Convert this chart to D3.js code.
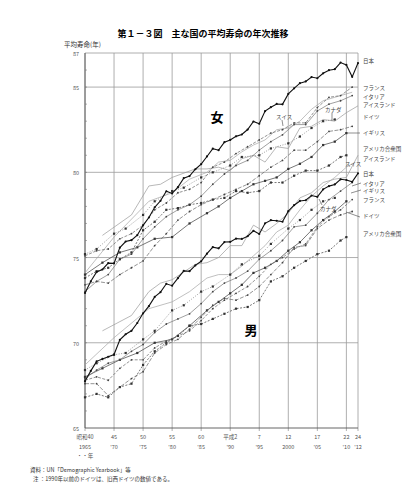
<!DOCTYPE html>
<html><head><meta charset="utf-8">
<script src="https://cdn.jsdelivr.net/npm/d3@7"></script>
<style>body{margin:0;background:#fff}svg{display:block}text{font-family:"Noto Sans CJK JP","Noto Sans",sans-serif}</style>
</head><body><svg id="c" width="403" height="500"></svg>
<script>
// ---------- data ----------
const tickYears = [1965,1970,1975,1980,1985,1990,1995,2000,2005,2010,2012];
const tickEra   = ["昭和40","45","50","55","60","平成2","7","12","17","22","24"];
const tickWest  = ["1965","'70","'75","'80","'85","'90","'95","2000","'05","'10","'12"];
const yTicks = [65,70,75,80,85,87];

const jpYears = [1965,1966,1967,1968,1969,1970,1971,1972,1973,1974,1975,1976,1977,1978,1979,1980,1981,1982,1983,1984,1985,1986,1987,1988,1989,1990,1991,1992,1993,1994,1995,1996,1997,1998,1999,2000,2001,2002,2003,2004,2005,2006,2007,2008,2009,2010,2011,2012];
const jpF = [72.92,73.61,74.15,74.30,74.67,74.66,75.58,75.94,76.02,76.31,76.89,77.35,77.95,78.33,78.89,78.76,79.13,79.66,79.78,80.18,80.48,80.93,81.39,81.30,81.77,81.90,82.11,82.22,82.51,82.98,82.85,83.59,83.82,84.01,83.99,84.60,84.93,85.23,85.33,85.59,85.52,85.81,85.99,86.05,86.44,86.30,85.60,86.41];
const jpM = [67.74,68.35,68.91,69.05,69.18,69.31,70.17,70.50,70.70,71.16,71.73,72.15,72.69,72.97,73.46,73.35,73.79,74.22,74.20,74.54,74.78,75.23,75.61,75.54,75.91,75.92,76.11,76.09,76.25,76.57,76.38,77.01,77.19,77.16,77.10,77.72,78.07,78.32,78.36,78.64,78.56,79.00,79.19,79.29,79.59,79.55,79.44,79.94];

const oddYears = [1965,1967,1969,1971,1973,1975,1977,1979,1981,1983,1985,1987,1989,1991,1993,1995,1997,1999,2001,2003,2005,2007,2009,2011];
const frF = [75.1,75.4,75.5,76.1,76.4,76.9,77.8,78.2,78.8,79.0,79.4,80.3,80.6,81.1,81.5,81.9,82.3,82.5,82.9,82.9,83.8,84.4,84.5,85.0];
const frM = [67.8,68.0,67.8,68.5,69.0,69.0,69.7,70.1,70.4,70.7,71.3,72.0,72.5,72.9,73.3,73.9,74.6,75.0,75.5,75.8,76.8,77.4,77.8,78.4];
const itF = [73.0,73.6,74.0,74.9,75.2,76.1,76.8,77.4,77.8,78.1,78.6,79.3,79.9,80.4,80.7,81.3,81.8,82.2,82.8,82.8,83.6,84.0,84.2,84.5];
const itM = [67.9,68.4,68.8,69.0,69.5,69.9,70.6,71.1,71.4,71.7,72.3,73.0,73.5,73.8,74.2,74.9,75.4,76.0,76.8,76.9,77.6,78.4,78.9,79.4];
const deF = [73.4,73.6,73.5,74.0,74.4,74.8,75.7,76.4,77.2,77.7,78.1,78.4,78.7,79.0,79.3,79.8,80.3,80.7,81.3,81.3,81.8,82.4,82.5,82.7];
const deM = [67.6,67.6,66.9,67.4,67.9,68.3,69.4,69.9,70.2,70.8,71.5,72.2,72.6,72.5,72.8,73.3,74.0,74.7,75.6,75.7,76.7,77.2,77.5,77.7];

const usYears = [1965,1967,1969,1971,1973,1975,1977,1979,1981,1983,1985,1987,1989,1991,1993,1995,1997,1999,2001,2003,2005,2007,2009,2010];
const usF = [73.8,74.2,74.4,74.9,75.3,76.6,77.1,77.8,77.9,78.1,78.2,78.4,78.5,78.9,78.8,78.9,79.4,79.4,79.8,80.1,80.1,80.4,80.9,81.0];
const usM = [66.8,67.0,66.8,67.4,67.6,68.7,69.5,70.0,70.4,71.0,71.1,71.4,71.7,72.0,72.1,72.5,73.6,73.9,74.4,74.8,75.2,75.4,76.0,76.2];

const isYears = [1968,1973,1976,1978,1980,1984,1986,1988,1990,1992,1994,1996,1998,2000,2002,2004,2006,2008,2010,2012];
const isF = [76.3,77.5,79.2,79.3,79.7,80.2,80.2,80.3,80.1,80.8,81.0,80.6,81.5,81.4,82.6,82.7,83.1,83.0,83.5,83.9];
const isM = [70.7,71.6,73.0,73.5,73.7,74.6,74.7,75.0,75.7,75.7,76.9,76.5,77.0,77.6,78.5,78.8,79.4,79.6,79.7,81.0];

const caYears = [1965,1967,1970,1972,1975,1977,1980,1982,1985,1987,1990,1992,1995,1997,2000,2002,2004,2006,2008];
const caF = [75.2,75.5,76.4,76.7,77.5,78.3,78.9,79.1,79.7,80.0,80.4,80.9,81.0,81.4,81.7,82.1,82.6,83.0,83.1];
const caM = [68.4,68.8,69.3,69.4,70.2,70.7,71.9,72.2,73.0,73.3,74.0,74.6,75.1,75.8,76.7,77.2,77.8,78.3,78.5];

const chYears = [1965,1970,1976,1980,1983,1986,1988,1990,1992,1994,1996,1998,2000,2002,2004,2006,2008,2010,2011];
const chF = [74.1,76.2,78.3,78.8,79.6,80.0,80.6,80.7,81.2,81.6,81.9,82.5,82.6,83.0,83.7,84.2,84.4,84.6,84.7];
const chM = [68.7,70.3,72.0,72.4,73.0,73.8,74.0,74.0,74.5,75.1,75.7,76.5,76.9,77.8,78.6,79.2,79.7,80.3,80.5];

const ukYears = [1965,1968,1971,1974,1977,1980,1983,1986,1988,1990,1992,1994,1996,1998,2000,2002,2004,2006,2008,2010];
const ukF = [74.0,74.7,75.3,75.6,76.1,76.2,77.0,77.6,78.0,78.5,78.9,79.3,79.5,79.7,80.2,80.5,80.9,81.6,81.8,82.3];
const ukM = [68.0,68.5,69.0,69.4,70.0,70.2,71.0,71.9,72.4,72.9,73.4,74.1,74.4,74.8,75.4,75.9,76.6,77.2,77.7,78.3];

// ---------- chart ----------
const svg = d3.select("#c");
const x = d3.scaleLinear().domain([1965,2012]).range([85,358]);
const y = d3.scaleLinear().domain([65,87]).range([428,53]);
const grid = "#9a9a9a";

svg.append("text").attr("x",203).attr("y",37).attr("text-anchor","middle")
  .attr("font-size",9).attr("font-weight","bold").text("第１－３図　主な国の平均寿命の年次推移");
svg.append("text").attr("x",64).attr("y",47).attr("font-size",6.5).attr("fill","#333").text("平均寿命(年)");

// grid
const g = svg.append("g");
g.selectAll("line.v").data(tickYears).join("line")
  .attr("x1",d=>x(d)).attr("x2",d=>x(d)).attr("y1",y(87)).attr("y2",y(65)+3)
  .attr("stroke",grid).attr("stroke-width",0.8);
g.selectAll("line.h").data([70,75,80,85,87]).join("line")
  .attr("x1",x(1965)).attr("x2",x(2012)).attr("y1",d=>y(d)).attr("y2",d=>y(d))
  .attr("stroke",grid).attr("stroke-width",0.8);
g.append("line").attr("x1",x(1965)).attr("x2",x(2012)).attr("y1",y(65)).attr("y2",y(65))
  .attr("stroke","#555").attr("stroke-width",0.9);
g.append("line").attr("x1",x(1965)).attr("x2",x(1965)).attr("y1",y(87)).attr("y2",y(65))
  .attr("stroke","#555").attr("stroke-width",0.9);
g.selectAll("line.m").data(d3.range(66,87)).join("line")
  .attr("x1",x(1965)).attr("x2",x(1965)+2).attr("y1",d=>y(d)).attr("y2",d=>y(d))
  .attr("stroke","#777").attr("stroke-width",0.6);

svg.selectAll("text.yt").data(yTicks).join("text")
  .attr("x",79).attr("y",d=>y(d)+3).attr("text-anchor","end").attr("font-size",5.5).attr("fill","#555").text(d=>d);
svg.selectAll("text.xe").data(tickYears).join("text")
  .attr("x",d=>x(d)).attr("y",439).attr("text-anchor","middle").attr("font-size",5.5).attr("fill","#555")
  .text((d,i)=>tickEra[i]);
svg.selectAll("text.xw").data(tickYears).join("text")
  .attr("x",d=>x(d)).attr("y",449).attr("text-anchor","middle").attr("font-size",5.5).attr("fill","#555")
  .text((d,i)=>tickWest[i]);
svg.append("text").attr("x",x(1965)).attr("y",458).attr("text-anchor","middle").attr("font-size",5.5).attr("fill","#555").text("・・年");

// series
const series = [
  {ys:isYears,f:isF,m:isM,color:"#9a9a9a",w:0.7,dash:null,mark:false},
  {ys:chYears,f:chF,m:chM,color:"#a5a5a5",w:0.7,dash:null,mark:false},
  {ys:ukYears,f:ukF,m:ukM,color:"#555",w:0.8,dash:null,mark:"sq"},
  {ys:caYears,f:caF,m:caM,color:"#777",w:0.7,dash:"1,1.5",mark:"sq"},
  {ys:oddYears,f:frF,m:frM,color:"#666",w:0.7,dash:"3,1.5",mark:"dot"},
  {ys:oddYears,f:itF,m:itM,color:"#777",w:0.7,dash:null,mark:"dot"},
  {ys:oddYears,f:deF,m:deM,color:"#666",w:0.7,dash:"4,1.5",mark:"dot"},
  {ys:usYears,f:usF,m:usM,color:"#555",w:0.8,dash:"2,1.5",mark:"sq"},
  {ys:jpYears,f:jpF,m:jpM,color:"#111",w:1.1,dash:null,mark:"jp"}
];
const line = d3.line().x(d=>x(d[0])).y(d=>y(d[1]));
series.forEach(s=>{
  [s.f,s.m].forEach(vals=>{
    const pts = s.ys.map((yr,i)=>[yr,vals[i]]);
    svg.append("path").attr("d",line(pts)).attr("fill","none").attr("stroke",s.color)
      .attr("stroke-width",s.w).attr("stroke-dasharray",s.dash);
    if(s.mark==="sq"){
      svg.append("g").selectAll("rect").data(pts).join("rect")
        .attr("x",d=>x(d[0])-1.1).attr("y",d=>y(d[1])-1.1).attr("width",2.2).attr("height",2.2).attr("fill","#333");
    } else if(s.mark==="dot"){
      svg.append("g").selectAll("circle").data(pts).join("circle")
        .attr("cx",d=>x(d[0])).attr("cy",d=>y(d[1])).attr("r",0.9).attr("fill","#444");
    } else if(s.mark==="jp"){
      svg.append("g").selectAll("circle").data(pts).join("circle")
        .attr("cx",d=>x(d[0])).attr("cy",d=>y(d[1])).attr("r",1.1).attr("fill","#111");
    }
  });
});

// labels
const labels = [
  ["日本",61],["フランス",88],["イタリア",97],["アイスランド",105],["ドイツ",117],["イギリス",133],["アメリカ合衆国",149],
  ["アイスランド",159],["日本",174],["イタリア",184],["イギリス",191],["フランス",200],["ドイツ",216],["アメリカ合衆国",234]
];
svg.selectAll("text.lab").data(labels).join("text")
  .attr("x",363).attr("y",d=>d[1]+2).attr("font-size",5.5).attr("fill","#444").text(d=>d[0]);
const inner = [["カナダ",325,110],["スイス",276,117],["スイス",345,164],["カナダ",320,209]];
svg.selectAll("text.in").data(inner).join("text")
  .attr("x",d=>d[1]).attr("y",d=>d[2]+2).attr("font-size",5.5).attr("fill","#444").text(d=>d[0]);
const leaders = [[345,133,360,133],[352,186,361,183],[351,193,361,190],[346,212,360,217],[332,113,332,121],[282,120,283,126],[322,205,319,199]];
svg.selectAll("line.ld").data(leaders).join("line")
  .attr("x1",d=>d[0]).attr("y1",d=>d[1]).attr("x2",d=>d[2]).attr("y2",d=>d[3]).attr("stroke","#444").attr("stroke-width",0.6);

svg.append("text").attr("x",217).attr("y",122).attr("text-anchor","middle").attr("font-size",13).attr("font-weight","bold").text("女");
svg.append("text").attr("x",251).attr("y",335).attr("text-anchor","middle").attr("font-size",13).attr("font-weight","bold").text("男");

svg.append("text").attr("x",30).attr("y",472).attr("font-size",5.5).attr("fill","#333").text("資料：UN「Demographic Yearbook」等");
svg.append("text").attr("x",33).attr("y",481).attr("font-size",5.5).attr("fill","#333").text("注 ：1990年以前のドイツは、旧西ドイツの数値である。");
</script></body></html>
